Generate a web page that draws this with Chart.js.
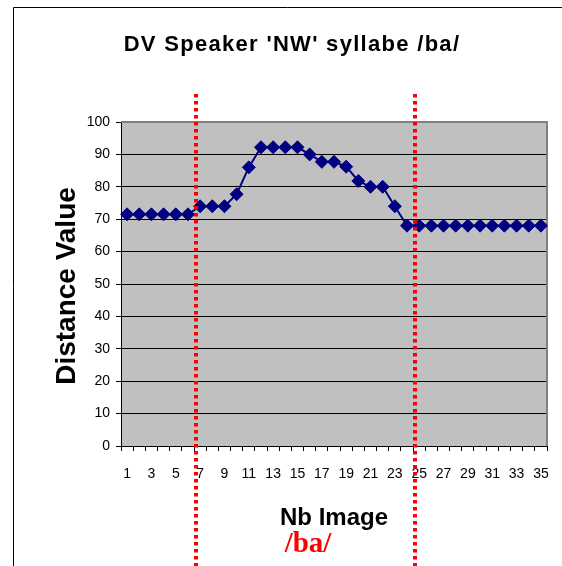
<!DOCTYPE html>
<html>
<head>
<meta charset="utf-8">
<script src="https://cdn.jsdelivr.net/npm/chart.js@4/dist/chart.umd.min.js"></script>
<style>
  html, body { margin: 0; padding: 0; background: #fff; }
  #wrap { width: 562px; height: 566px; position: relative; }
</style>
</head>
<body>
<div id="wrap"><canvas id="c" width="562" height="566"></canvas></div>
<script>
// ---- data ----
const imageNumbers = Array.from({length: 35}, (_, i) => String(i + 1));
const distanceValues = [
  71.5, 71.5, 71.5, 71.5, 71.5, 71.5, 74, 74, 74, 77.7,
  86, 92.2, 92.2, 92.2, 92.2, 90, 87.7, 87.7, 86.2, 81.8,
  80, 80, 74, 68, 68, 68, 68, 68, 68, 68,
  68, 68, 68, 68, 68
];
const yTicks = [0, 10, 20, 30, 40, 50, 60, 70, 80, 90, 100];
const segmentMarkers = [6.66, 24.66]; // image-number positions of the /ba/ boundaries
const chartTitle = "DV Speaker 'NW' syllabe /ba/";
const yTitle = 'Distance Value';
const xTitle = 'Nb Image';
const syllableLabel = '/ba/';

const decorPlugin = {
  id: 'decor',
  beforeDraw(chart) {
    const {ctx, chartArea: a} = chart;
    ctx.save();
    ctx.fillStyle = '#fff';
    ctx.fillRect(0, 0, chart.width, chart.height);
    // outer frame (left and top)
    ctx.strokeStyle = '#000';
    ctx.lineWidth = 1;
    ctx.beginPath();
    ctx.moveTo(13.5, chart.height);
    ctx.lineTo(13.5, 7.5);
    ctx.lineTo(chart.width, 7.5);
    ctx.stroke();
    // plot background
    ctx.fillStyle = '#C0C0C0';
    ctx.fillRect(a.left, a.top, a.right - a.left, a.bottom - a.top);
    ctx.restore();
  },
  beforeDatasetsDraw(chart) {
    const {ctx, chartArea: a} = chart;
    ctx.save();
    ctx.strokeStyle = '#808080';
    ctx.lineWidth = 2;
    ctx.beginPath();
    ctx.moveTo(a.left, a.top);
    ctx.lineTo(a.right, a.top);
    ctx.lineTo(a.right, a.bottom);
    ctx.stroke();
    ctx.restore();
  },
  afterDraw(chart) {
    const {ctx, chartArea: a} = chart;
    const xs = chart.scales.x;
    ctx.save();
    // texts
    ctx.fillStyle = '#000';
    ctx.textAlign = 'center';
    ctx.textBaseline = 'alphabetic';
    ctx.font = 'bold 22px "Liberation Sans", Arial, sans-serif';
    try { ctx.letterSpacing = '1.3px'; } catch (e) {}
    ctx.fillText(chartTitle, 292, 51);
    try { ctx.letterSpacing = '0px'; } catch (e) {}
    ctx.font = 'bold 24px "Liberation Sans", Arial, sans-serif';
    ctx.fillText(xTitle, 334, 525);
    ctx.save();
    ctx.translate(75, 286);
    ctx.rotate(-Math.PI / 2);
    ctx.font = 'bold 28px "Liberation Sans", Arial, sans-serif';
    ctx.fillText(yTitle, 0, 0);
    ctx.restore();
    ctx.fillStyle = '#FF0000';
    ctx.font = 'bold 29px "Liberation Serif", "Times New Roman", serif';
    ctx.fillText(syllableLabel, 308, 552);
    // dotted boundary lines
    ctx.strokeStyle = '#FF0000';
    ctx.lineWidth = 4;
    ctx.setLineDash([3.5, 3.5]);
    segmentMarkers.forEach(m => {
      const x = Math.round(xs.getPixelForValue(m - 1));
      ctx.beginPath();
      ctx.moveTo(x, a.top - 28);
      ctx.lineTo(x, chart.height);
      ctx.stroke();
    });
    ctx.restore();
  }
};

new Chart(document.getElementById('c'), {
  type: 'line',
  data: {
    labels: imageNumbers,
    datasets: [{
      data: distanceValues,
      borderColor: '#000080',
      backgroundColor: '#000080',
      borderWidth: 2,
      pointStyle: 'rectRot',
      pointRadius: 6.5,
      pointBorderWidth: 1,
      pointBorderColor: '#000080',
      pointBackgroundColor: '#000080',
      tension: 0,
      clip: false
    }]
  },
  options: {
    responsive: false,
    animation: false,
    devicePixelRatio: 1,
    layout: { padding: { top: 122, right: 15, bottom: 80, left: 0 } },
    plugins: { legend: { display: false }, tooltip: { enabled: false }, title: { display: false } },
    scales: {
      x: {
        type: 'category',
        offset: true,
        grid: { offset: true, drawOnChartArea: false, drawTicks: true, tickLength: 5, color: '#000', lineWidth: 1 },
        border: { color: '#000', width: 1 },
        ticks: {
          autoSkip: false, maxRotation: 0, padding: 15,
          color: '#000',
          font: { family: '"Liberation Sans", Arial, sans-serif', size: 14 },
          callback: function (v, i) { return i % 2 === 0 ? this.getLabelForValue(v) : ''; }
        },
        afterFit(scale) { scale.height = 40; scale.paddingLeft = 0; scale.paddingRight = 0; }
      },
      y: {
        min: 0, max: 100,
        afterBuildTicks(scale) { scale.ticks = yTicks.map(v => ({ value: v })); },
        grid: { color: '#000', lineWidth: 1, tickLength: 5, drawTicks: true },
        border: { color: '#000', width: 1 },
        ticks: {
          color: '#000', padding: 6,
          font: { family: '"Liberation Sans", Arial, sans-serif', size: 14 }
        },
        afterFit(scale) { scale.width = 121; scale.paddingTop = 0; scale.paddingBottom = 0; }
      }
    }
  },
  plugins: [decorPlugin]
});
</script>
</body>
</html>
